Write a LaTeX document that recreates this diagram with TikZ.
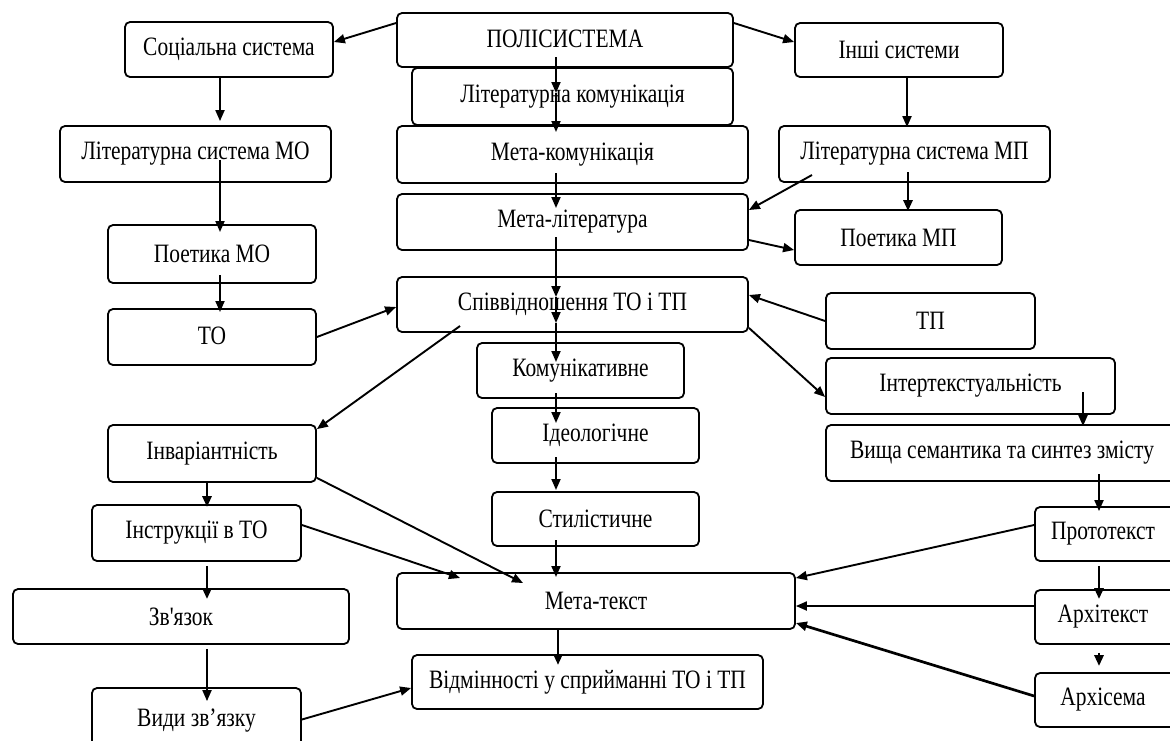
\documentclass[tikz,border=0pt]{standalone}
\usepackage{fontspec}
\setmainfont{Liberation Serif}[FakeStretch=0.81, Ligatures=TeXOff]
\usetikzlibrary{arrows.meta}
\begin{document}
\begin{tikzpicture}[x=1pt,y=-1pt,
  box/.style={draw, line width=1.8pt, rounded corners=5pt, inner sep=0pt,
    font=\fontsize{26.5}{30}\selectfont},
  arr/.style={line width=1.9pt, -{Triangle[length=11pt,width=9pt]}},
  thk/.style={line width=2.7pt}]
\clip (0,0) rectangle (1170,740);
\fill[white] (0,0) rectangle (1170,740);
% left column
\node[box, minimum width=208pt, minimum height=55pt] (soc) at (229,49.5) {Соціальна система};
\node[box, minimum width=271pt, minimum height=56pt] (litmo) at (195.5,154) {Літературна система МО};
\node[box, minimum width=208pt, minimum height=58pt] (poetmo) at (212,254) {Поетика МО};
\node[box, minimum width=208pt, minimum height=56pt] (to) at (212,337) {\raisebox{2pt}{ТО}};
\node[box, minimum width=208pt, minimum height=57pt] (inv) at (212,453.5) {Інваріантність};
\node[box, minimum width=209pt, minimum height=56pt] (instr) at (196.5,533) {Інструкції в ТО};
\node[box, minimum width=336pt, minimum height=55pt] (zv) at (181,616.5) {Зв'язок};
\node[box, minimum width=209pt, minimum height=66pt] (vydy) at (196.5,721) {\raisebox{7pt}{Види зв’язку}};
% centre column
\node[box, minimum width=336pt, minimum height=54pt] (poly) at (565,40) {\raisebox{2pt}{ПОЛІСИСТЕМА}};
\node[box, minimum width=321pt, minimum height=57pt] (litkom) at (572.5,96.5) {Літературна комунікація};
\node[box, minimum width=351pt, minimum height=57pt] (metakom) at (572.5,154.5) {Мета-комунікація};
\node[box, minimum width=351pt, minimum height=56pt] (metalit) at (572.5,222) {Мета-література};
\node[box, minimum width=351pt, minimum height=55pt] (spiv) at (572.5,304.5) {Співвідношення ТО і ТП};
\node[box, minimum width=207pt, minimum height=55pt] (kom) at (580.5,370.5) {Комунікативне};
\node[box, minimum width=207pt, minimum height=55pt] (ideo) at (595.5,435.5) {Ідеологічне};
\node[box, minimum width=207pt, minimum height=54pt] (styl) at (595.5,519) {Стилістичне};
\node[box, minimum width=398pt, minimum height=56pt] (metatxt) at (596,601) {Мета-текст};
\node[box, minimum width=351pt, minimum height=54pt] (vidm) at (587.5,682) {Відмінності у сприйманні ТО і ТП};
% right column
\node[box, minimum width=208pt, minimum height=54pt] (inshi) at (899,50) {Інші системи};
\node[box, minimum width=271pt, minimum height=56pt] (litmp) at (914.5,154) {Літературна система МП};
\node[box, minimum width=207pt, minimum height=55pt] (poetmp) at (898.5,237.5) {Поетика МП};
\node[box, minimum width=209pt, minimum height=56pt] (tp) at (930.5,321) {ТП};
\node[box, minimum width=289pt, minimum height=56pt] (inter) at (970.5,386) {Інтертекстуальність};
\node[box, minimum width=352pt, minimum height=56pt] (vyshcha) at (1002,453) {Вища семантика та синтез змісту};
\node[box, minimum width=142pt, minimum height=54pt] (proto) at (1106,534) {\hspace*{-6pt}Прототекст};
\node[box, minimum width=142pt, minimum height=54pt] (arkht) at (1106,617) {\hspace*{-6pt}Архітекст};
\node[box, minimum width=142pt, minimum height=54pt] (arkhs) at (1106,700) {\hspace*{-6pt}Архісема};
% connectors: top
\draw[arr] ([yshift=17pt]poly.west) -- ([yshift=7.5pt]soc.east);
\draw[arr] ([yshift=17pt]poly.east) -- ([yshift=8pt]inshi.west);
% centre spine
\draw[arr] ([xshift=-9pt,yshift=-17pt]poly.center) -- ([xshift=-16.5pt,yshift=3.5pt]litkom.center);
\draw[arr] ([xshift=-16.5pt,yshift=3.5pt]litkom.center) -- ([xshift=-16.5pt,yshift=22.5pt]metakom.center);
\draw[arr] ([xshift=-16.5pt,yshift=-18.5pt]metakom.center) -- ([xshift=-16.5pt,yshift=14pt]metalit.center);
\draw[arr] ([xshift=-16.5pt,yshift=-15pt]metalit.center) -- ([xshift=-16.5pt,yshift=7.5pt]spiv.center);
\draw[arr] ([xshift=-16.5pt,yshift=7.5pt]spiv.center) -- ([xshift=-16.5pt,yshift=-18.5pt]spiv.center);
\draw[arr] ([xshift=-16.5pt,yshift=-18.5pt]spiv.center) -- ([xshift=-24.5pt,yshift=8.5pt]kom.center);
\draw[arr] ([xshift=-24.5pt,yshift=-22.5pt]kom.center) -- ([xshift=-39.5pt,yshift=12.5pt]ideo.center);
\draw[arr] ([xshift=-39.5pt,yshift=-21.5pt]ideo.center) -- ([xshift=-39.5pt,yshift=29pt]styl.center);
\draw[arr] ([xshift=-39.5pt,yshift=-21pt]styl.center) -- ([xshift=-40pt,yshift=24pt]metatxt.center);
\draw[arr,thk] ([xshift=-38pt]metatxt.south) -- ([xshift=-29.5pt,yshift=17pt]vidm.center);
% left chain
\draw[arr] ([xshift=-9pt]soc.south) -- ([xshift=24.5pt,yshift=4pt]litmo.north);
\draw[arr] ([xshift=24.5pt,yshift=-6pt]litmo.center) -- ([xshift=8pt,yshift=22pt]poetmo.center);
\draw[arr] ([xshift=8pt,yshift=-21pt]poetmo.center) -- ([xshift=8pt,yshift=25pt]to.center);
\draw[arr] (to.east) -- ([yshift=-2.5pt]spiv.west);
\draw[arr] ([xshift=-112.5pt,yshift=-21.5pt]spiv.center) -- ([yshift=-5pt]inv.north east);
\draw[arr] ([yshift=5pt]inv.south east) -- ([xshift=-73pt,yshift=18pt]metatxt.center);
\draw[arr] ([yshift=8pt]instr.east) -- ([xshift=-136pt,yshift=23pt]metatxt.center);
\draw[arr,thk] ([xshift=-5pt]inv.south) -- ([xshift=10.5pt,yshift=-3pt]instr.north);
\draw[arr,thk] ([xshift=10.5pt,yshift=-4pt]instr.south) -- ([xshift=26pt,yshift=-11pt]zv.north);
\draw[arr] ([xshift=26pt,yshift=-4pt]zv.south) -- ([xshift=10.5pt,yshift=-14pt]vydy.north);
\draw[arr] ([yshift=1.5pt]vydy.east) -- ([yshift=-6pt]vidm.west);
% right chain
\draw[arr] ([xshift=8pt]inshi.south) -- ([xshift=-7.5pt,yshift=-2pt]litmp.north);
\draw[arr,thk] ([xshift=-6.5pt,yshift=-18pt]litmp.center) -- ([xshift=9.5pt,yshift=-2pt]poetmp.north);
\draw[arr] ([xshift=-102.5pt,yshift=-21pt]litmp.center) -- ([yshift=12pt]metalit.east);
\draw[arr] ([yshift=-18pt]metalit.east) -- ([yshift=-12.5pt]poetmp.west);
\draw[arr] (tp.west) -- ([yshift=9.5pt]spiv.east);
\draw[arr] ([yshift=5pt]spiv.south east) -- ([yshift=-11pt]inter.west);
\draw[arr] ([xshift=112.5pt,yshift=-6pt]inter.center) -- ([xshift=81pt,yshift=-2pt]vyshcha.north);
\draw[arr] ([xshift=97pt,yshift=-21pt]vyshcha.center) -- ([xshift=-7pt,yshift=-5pt]proto.north);
\draw[arr,thk] ([xshift=-7pt,yshift=-4pt]proto.south) -- ([xshift=-7pt,yshift=-10pt]arkht.north);
\draw[arr,thk] ([xshift=-7pt,yshift=-8pt]arkht.south) -- ([xshift=-7pt,yshift=6pt]arkhs.north);
\draw[arr] ([yshift=9pt]proto.west) -- ([yshift=23pt]metatxt.east);
\draw[arr] ([yshift=11pt]arkht.west) -- ([yshift=-5pt]metatxt.east);
\draw[arr,thk] ([yshift=4pt]arkhs.west) -- ([yshift=-22pt]metatxt.east);
\end{tikzpicture}
\end{document}
